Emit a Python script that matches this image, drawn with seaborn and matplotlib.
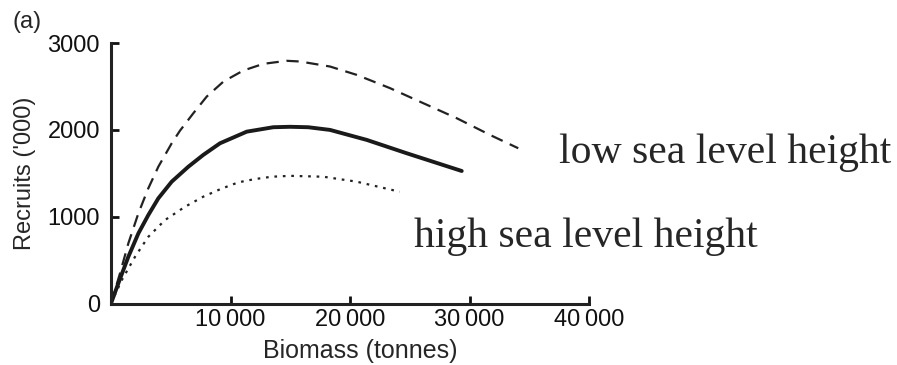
import matplotlib
matplotlib.use("Agg")
import matplotlib.pyplot as plt
import seaborn as sns
import pandas as pd

# Biomass (tonnes) and recruits ('000)
dashed_x = [0, 750, 1450, 2290, 3120, 3960, 5080, 5770, 6890, 8010, 9410, 11070, 12750, 14700, 15820, 18330, 20560, 23350, 26130, 28930, 31720, 34080]
dashed_y = [0, 346, 692, 1038, 1326, 1575, 1845, 1990, 2191, 2383, 2556, 2683, 2760, 2795, 2787, 2729, 2633, 2480, 2307, 2134, 1941, 1788]

solid_x = [0, 610, 1450, 2290, 3120, 3960, 5080, 6470, 7720, 9120, 11360, 13580, 14980, 16500, 18330, 21400, 24750, 29350]
solid_y = [0, 231, 538, 807, 1018, 1211, 1403, 1575, 1711, 1845, 1979, 2030, 2035, 2030, 1999, 1884, 1730, 1526]

dotted_x = [0, 900, 2010, 3120, 4520, 6190, 7720, 9200, 10650, 12000, 13450, 15000, 17770, 20560, 24160]
dotted_y = [0, 269, 538, 768, 961, 1114, 1230, 1320, 1395, 1432, 1460, 1470, 1460, 1403, 1287]

x_ticks = [10000, 20000, 30000, 40000]
x_tick_labels = ["10\u2009000", "20\u2009000", "30\u2009000", "40\u2009000"]
y_ticks = [0, 1000, 2000, 3000]
y_tick_labels = ["0", "1000", "2000", "3000"]

sns.set_style("ticks")
plt.rcParams['font.family'] = ['Liberation Sans', 'DejaVu Sans']

fig = plt.figure(figsize=(8.97, 3.65), dpi=100)
ax = fig.add_axes([111 / 897, (365 - 303.5) / 365, (589 - 111) / 897, (303.5 - 43) / 365])

df_d = pd.DataFrame({"x": dashed_x, "y": dashed_y})
df_s = pd.DataFrame({"x": solid_x, "y": solid_y})
df_o = pd.DataFrame({"x": dotted_x, "y": dotted_y})

sns.lineplot(data=df_d, x="x", y="y", ax=ax, color="#222222", lw=1.6, sort=False)
ax.lines[-1].set_dashes([5.5, 3.5])
sns.lineplot(data=df_s, x="x", y="y", ax=ax, color="#1a1a1a", lw=2.8, sort=False)
ax.lines[-1].set_solid_joinstyle("round")
sns.lineplot(data=df_o, x="x", y="y", ax=ax, color="#222222", lw=1.6, sort=False)
ax.lines[-1].set_dashes([1.2, 2.6])

ax.set_xlim(0, 40000)
ax.set_ylim(0, 3000)
ax.set_xticks(x_ticks)
ax.set_xticklabels(x_tick_labels)
ax.set_yticks(y_ticks)
ax.set_yticklabels(y_tick_labels)
ax.tick_params(direction="in", length=6, width=2, labelsize=17, pad=4, colors="#111111")
ax.tick_params(axis="y", pad=8)
for s in ["top", "right"]:
    ax.spines[s].set_visible(False)
for s in ["left", "bottom"]:
    ax.spines[s].set_linewidth(2.2)
    ax.spines[s].set_color("#222222")

ax.set_xlabel("Biomass (tonnes)", fontsize=18)
ax.xaxis.set_label_coords((360 - 111) / 478, -0.135)
ax.set_ylabel("Recruits ('000)", fontsize=17, labelpad=8)

fig.text(12 / 897, 1 - 22 / 365, "(a)", fontsize=17, va="center", ha="left")
fig.text(559 / 897, 1 - 163 / 365, "low sea level height", fontsize=30,
         family=["Liberation Serif"], va="baseline", ha="left")
fig.text(414 / 897, 1 - 247 / 365, "high sea level height", fontsize=30,
         family=["Liberation Serif"], va="baseline", ha="left")

fig.savefig("out.png", dpi=100)
